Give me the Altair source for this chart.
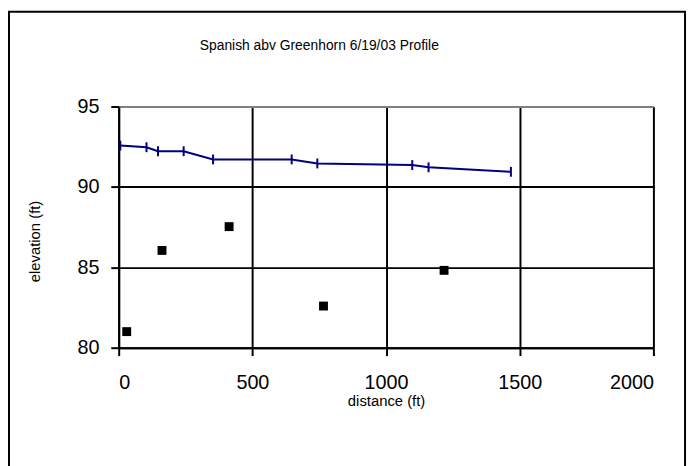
import altair as alt
import pandas as pd

# Profile line (navy, with dash markers)
line_dist = [6, 104, 147, 243, 353, 647, 743, 1098, 1159, 1467]
line_elev = [92.57, 92.47, 92.22, 92.22, 91.71, 91.71, 91.46, 91.36, 91.22, 90.94]

# Scatter points (black squares)
pt_dist = [30, 162, 413, 766, 1217]
pt_elev = [81.0, 86.05, 87.53, 82.59, 84.81]

x_ticks = [0, 500, 1000, 1500, 2000]
y_ticks = [80, 85, 90, 95]

title_text = ["Spanish abv Greenhorn 6/19/03 Profile"]

line_df = pd.DataFrame({"distance": line_dist, "elevation": line_elev})
pt_df = pd.DataFrame({"distance": pt_dist, "elevation": pt_elev})
title_df = pd.DataFrame({"t": title_text})

FONT = "Liberation Sans"

x_enc = alt.X(
    "distance:Q",
    scale=alt.Scale(domain=[0, 2000], nice=False, zero=False),
    axis=alt.Axis(
        values=x_ticks, title="distance (ft)", format="d",
        grid=True, gridColor="black", gridWidth=2,
        domainColor="black", domainWidth=2,
        tickColor="black", tickWidth=2, tickSize=8,
        labelFont=FONT, labelFontSize=20, labelColor="black", labelPadding=17,
        titleFont=FONT, titleFontSize=15, titleFontWeight="normal", titleColor="black",
        titleY=53, titleBaseline="middle",
    ),
)
y_enc = alt.Y(
    "elevation:Q",
    scale=alt.Scale(domain=[80, 95], nice=False, zero=False),
    axis=alt.Axis(
        values=y_ticks, title="elevation (ft)",
        grid=True,
        gridColor={"condition": {"test": "datum.value === 95", "value": "#808080"}, "value": "black"},
        gridWidth=2,
        domainColor="black", domainWidth=2,
        tickColor="black", tickWidth=2, tickSize=8,
        labelFont=FONT, labelFontSize=20, labelColor="black", labelPadding=12,
        titleFont=FONT, titleFontSize=15, titleFontWeight="normal", titleColor="black",
        titleX=-85, titleY=136, titleAlign="center", titleBaseline="middle", titleAngle=-90,
    ),
)

line = alt.Chart(line_df).mark_line(color="#000080", strokeWidth=2).encode(x=x_enc, y=y_enc)
ticks = alt.Chart(line_df).mark_point(
    shape="M0,-1L0,1", size=100, filled=False, color="#000080", strokeWidth=2, opacity=1
).encode(x="distance:Q", y="elevation:Q")
pts = alt.Chart(pt_df).mark_square(size=81, color="black", opacity=1).encode(
    x="distance:Q", y="elevation:Q"
)

frame = alt.Chart(pd.DataFrame({"a": [0]})).mark_rect(
    fill=None, stroke="black", strokeWidth=2, clip=False
).encode(
    x=alt.value(-111), x2=alt.value(573), y=alt.value(-96), y2=alt.value(400)
)

title = alt.Chart(title_df).mark_text(
    font=FONT, fontSize=14, color="black", align="center", baseline="middle", clip=False
).encode(text="t:N", x=alt.value(203), y=alt.value(-61))

chart = alt.layer(frame, line, ticks, pts, title).properties(
    width=541,
    height=244,
    autosize=alt.AutoSizeParams(type="none"),
    padding={"left": 112, "top": 97, "right": 35, "bottom": 117},
).configure_view(stroke="#808080", strokeWidth=2).configure(background="white")

chart.save("out.html", embed_options={"renderer": "svg", "actions": False})
